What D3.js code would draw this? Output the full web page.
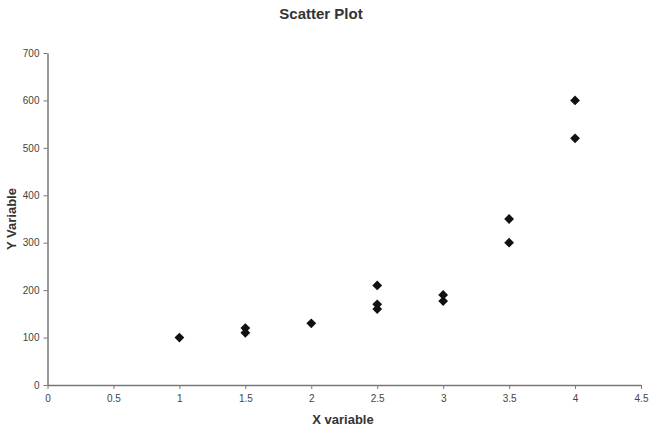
<!DOCTYPE html>
<html>
<head>
<meta charset="utf-8">
<script src="https://cdn.jsdelivr.net/npm/d3@7"></script>
<style>
  body { margin: 0; background: #fff; }
  text { font-family: 'Liberation Sans', Arial, sans-serif; }
</style>
</head>
<body>
<div id="chart"></div>
<script>
// data
const xValues = [1, 1.5, 1.5, 2, 2.5, 2.5, 2.5, 3, 3, 3.5, 3.5, 4, 4]
const yValues = [100, 120, 110, 130, 210, 170, 160, 190, 177, 350, 300, 600, 520]
const xTicks = [0, 0.5, 1, 1.5, 2, 2.5, 3, 3.5, 4, 4.5]
const yTicks = [0, 100, 200, 300, 400, 500, 600, 700]

const width = 650
const height = 429
const margin = { top: 53, right: 9, bottom: 44, left: 47.5 }

const svg = d3
  .select('#chart')
  .append('svg')
  .attr('width', width)
  .attr('height', height)

const x = d3.scaleLinear().domain([0, 4.5]).range([margin.left, width - margin.right])
const y = d3.scaleLinear().domain([0, 700]).range([height - margin.bottom, margin.top])

// x axis
const xAxis = svg
  .append('g')
  .attr('transform', `translate(0, ${y(0)})`)
  .call(d3.axisBottom(x).tickValues(xTicks).tickSize(4).tickSizeOuter(0).tickPadding(6).tickFormat(d3.format('')))
xAxis.select('.domain').attr('stroke', '#777').attr('stroke-width', 1.5)
xAxis.selectAll('.tick line').attr('stroke', '#777')
xAxis.selectAll('text').attr('fill', '#444').style('font-size', '10px')

// y axis
const yAxis = svg
  .append('g')
  .attr('transform', `translate(${x(0)}, 0)`)
  .call(d3.axisLeft(y).tickValues(yTicks).tickSize(4).tickSizeOuter(0).tickPadding(4))
yAxis.select('.domain').attr('stroke', '#777').attr('stroke-width', 1.5)
yAxis.selectAll('.tick line').attr('stroke', '#777')
yAxis.selectAll('text').attr('fill', '#444').style('font-size', '10px')

// points (rotated squares)
const points = xValues.map((d, i) => ({ x: d, y: yValues[i] }))
svg
  .append('g')
  .selectAll('path')
  .data(points)
  .join('path')
  .attr('d', d3.symbol(d3.symbolSquare, 48))
  .attr('transform', (d) => `translate(${x(d.x)},${y(d.y)}) rotate(45)`)
  .attr('fill', '#111')

// title + labels
svg
  .append('text')
  .attr('x', 321)
  .attr('y', 19)
  .attr('text-anchor', 'middle')
  .style('font-size', '15px')
  .style('font-weight', 'bold')
  .attr('fill', '#333')
  .text('Scatter Plot')

svg
  .append('text')
  .attr('x', 343)
  .attr('y', 424)
  .attr('text-anchor', 'middle')
  .style('font-size', '13px')
  .style('font-weight', 'bold')
  .attr('fill', '#333')
  .text('X variable')

svg
  .append('text')
  .attr('transform', `translate(16, 219) rotate(-90)`)
  .attr('text-anchor', 'middle')
  .style('font-size', '13px')
  .style('font-weight', 'bold')
  .attr('fill', '#333')
  .text('Y Variable')
</script>
</body>
</html>
